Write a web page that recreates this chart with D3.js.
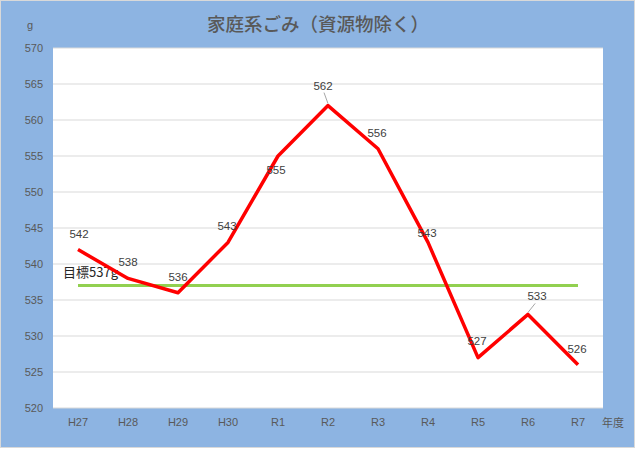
<!DOCTYPE html>
<html lang="ja">
<head>
    <meta charset="UTF-8">
    <title>家庭系ごみ（資源物除く）</title>
    <style>
        body{
            margin: 0;
            font-family: "Liberation Sans", "Noto Sans CJK JP", sans-serif;
            background: #ffffff;
        }
        svg{
            display: block;
        }
        .tick-label{
            font-size: 11px;
            fill: #595959;
        }
        .data-label{
            font-size: 11.5px;
            fill: #404040;
        }
        .title{
            font-family: "Noto Sans CJK JP", sans-serif;
            font-size: 18.5px;
            font-weight: 500;
            fill: #595959;
        }
    </style>
    <script src="https://d3js.org/d3.v7.min.js"></script>
</head>
<body>
    <script>
        var years = ["H27","H28","H29","H30","R1","R2","R3","R4","R5","R6","R7"];
        var amounts = [542, 538, 536, 543, 555, 562, 556, 543, 527, 533, 526];
        var target = 537;
        var yTicks = [520, 525, 530, 535, 540, 545, 550, 555, 560, 565, 570];

        // label offsets from each point (how the spreadsheet placed them)
        var labelDx = [1, 0, 0, -1, -2, -5, -1, -1, -1, 9, -1];
        var labelDy = [-16, -16, -16, -16, 14, -20, -16, -9, -17, -18, -16];

        var width = 637, height = 449;
        var plotL = 53, plotR = 603, plotT = 48, plotB = 408;

        var svg = d3.select("body").append("svg")
            .attr("width", width)
            .attr("height", height);

        svg.append("rect")
            .attr("x", 0.5).attr("y", 0.5)
            .attr("width", 634).attr("height", 447)
            .attr("fill", "#8db4e2")
            .attr("stroke", "#d9d9d9");

        svg.append("rect")
            .attr("x", plotL).attr("y", plotT)
            .attr("width", plotR - plotL).attr("height", plotB - plotT)
            .attr("fill", "#ffffff");

        var x = d3.scaleBand().domain(years).range([plotL, plotR]).padding(0);
        var y = d3.scaleLinear().domain([520, 570]).range([plotB, plotT]);
        var cx = function(d){ return x(d) + x.bandwidth() / 2; };

        // grid lines
        svg.append("g")
            .selectAll("line")
            .data(yTicks)
            .join("line")
            .attr("x1", plotL).attr("x2", plotR)
            .attr("y1", function(d){ return y(d); })
            .attr("y2", function(d){ return y(d); })
            .attr("stroke", "#d9d9d9")
            .attr("stroke-width", 1.2);

        // y axis labels
        var yAxis = svg.append("g")
            .attr("transform", "translate(" + (plotL - 10) + ",0)")
            .call(d3.axisLeft(y).tickValues(yTicks).tickSize(0).tickPadding(0));
        yAxis.select(".domain").remove();
        yAxis.selectAll("text").attr("class", "tick-label").attr("fill", null);

        // x axis labels
        var xAxis = svg.append("g")
            .attr("transform", "translate(0," + (plotB + 10) + ")")
            .call(d3.axisBottom(x).tickSize(0).tickPadding(0));
        xAxis.select(".domain").remove();
        xAxis.selectAll("text").attr("class", "tick-label").attr("fill", null);

        svg.append("text")
            .attr("class", "tick-label")
            .attr("x", 30).attr("y", 29)
            .attr("text-anchor", "middle")
            .text("g");
        svg.append("text")
            .attr("class", "tick-label")
            .attr("x", 613).attr("y", 427)
            .attr("text-anchor", "middle")
            .style("font-family", "'Noto Sans CJK JP'")
            .text("年度");

        // title
        svg.append("text")
            .attr("class", "title")
            .attr("x", 318).attr("y", 31)
            .attr("text-anchor", "middle")
            .text("家庭系ごみ（資源物除く）");

        // target line
        svg.append("line")
            .attr("x1", cx(years[0]))
            .attr("x2", cx(years[years.length - 1]))
            .attr("y1", y(target)).attr("y2", y(target))
            .attr("stroke", "#92d050")
            .attr("stroke-width", 3);
        svg.append("text")
            .attr("x", 63).attr("y", y(target) - 9)
            .attr("font-size", "13px")
            .attr("fill", "#262626")
            .style("font-family", "'Noto Sans CJK JP'")
            .text("目標" + target + "g");

        // series line
        var line = d3.line()
            .x(function(d, i){ return cx(years[i]); })
            .y(function(d){ return y(d); });
        svg.append("path")
            .datum(amounts)
            .attr("d", line)
            .attr("fill", "none")
            .attr("stroke", "#ff0000")
            .attr("stroke-width", 3.5)
            .attr("stroke-linejoin", "round");

        // leader lines for shifted labels
        var leaders = [5, 9];
        svg.append("g")
            .selectAll("line")
            .data(leaders)
            .join("line")
            .attr("x1", function(i){ return cx(years[i]); })
            .attr("y1", function(i){ return y(amounts[i]) - 2; })
            .attr("x2", function(i){ return cx(years[i]) + labelDx[i] * 0.8; })
            .attr("y2", function(i){ return y(amounts[i]) + labelDy[i] + 7; })
            .attr("stroke", "#a6a6a6")
            .attr("stroke-width", 1);

        // data labels
        svg.append("g")
            .selectAll("text")
            .data(amounts)
            .join("text")
            .attr("class", "data-label")
            .attr("text-anchor", "middle")
            .attr("x", function(d, i){ return cx(years[i]) + labelDx[i]; })
            .attr("y", function(d, i){ return y(d) + labelDy[i] + 4; })
            .text(function(d){ return d; });
    </script>
</body>
</html>
